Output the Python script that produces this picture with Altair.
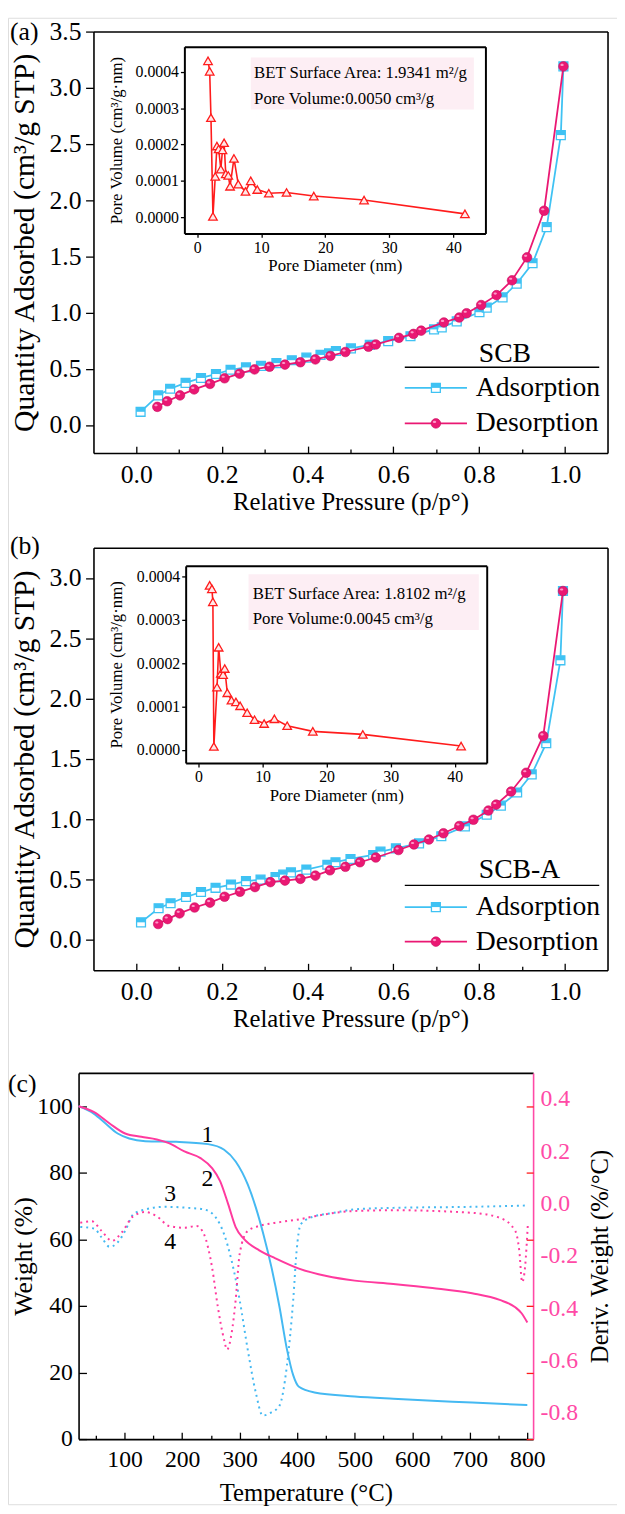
import altair as alt
import pandas as pd

# ---------------- data: panel (a) SCB isotherm ----------------
ads_a_p = [0.010, 0.051, 0.079, 0.115, 0.151, 0.186, 0.220, 0.256, 0.291, 0.327, 0.363, 0.397, 0.430, 0.450, 0.466,
           0.501, 0.545, 0.588, 0.640, 0.695, 0.713, 0.748, 0.801, 0.818, 0.855, 0.888, 0.925, 0.958, 0.991, 0.997]
ads_a_q = [0.117, 0.263, 0.322, 0.374, 0.418, 0.453, 0.491, 0.512, 0.526, 0.550, 0.576, 0.599, 0.623, 0.637, 0.658,
           0.681, 0.712, 0.746, 0.789, 0.850, 0.868, 0.921, 1.003, 1.044, 1.135, 1.257, 1.439, 1.760, 2.579, 3.190]
des_a_p = [0.049, 0.072, 0.102, 0.135, 0.172, 0.206, 0.241, 0.276, 0.311, 0.347, 0.383, 0.418, 0.453, 0.488,
           0.542, 0.559, 0.613, 0.647, 0.665, 0.718, 0.754, 0.771, 0.805, 0.841, 0.877, 0.912, 0.952, 0.997]
des_a_q = [0.161, 0.211, 0.263, 0.316, 0.365, 0.415, 0.456, 0.494, 0.518, 0.537, 0.558, 0.583, 0.614, 0.649,
           0.696, 0.716, 0.775, 0.810, 0.839, 0.912, 0.956, 0.994, 1.067, 1.155, 1.287, 1.491, 1.906, 3.190]

# ---------------- data: panel (b) SCB-A isotherm ----------------
ads_b_p = [0.011, 0.052, 0.080, 0.116, 0.151, 0.185, 0.221, 0.256, 0.290, 0.325, 0.343, 0.361, 0.397, 0.446, 0.465,
           0.500, 0.553, 0.570, 0.606, 0.660, 0.712, 0.767, 0.818, 0.851, 0.889, 0.923, 0.957, 0.990, 0.996]
ads_b_q = [0.147, 0.264, 0.305, 0.357, 0.398, 0.433, 0.460, 0.488, 0.501, 0.522, 0.542, 0.561, 0.583, 0.624, 0.645,
           0.672, 0.705, 0.733, 0.760, 0.801, 0.860, 0.942, 1.038, 1.114, 1.223, 1.373, 1.631, 2.318, 2.892]
des_b_p = [0.051, 0.073, 0.101, 0.136, 0.172, 0.206, 0.242, 0.277, 0.313, 0.347, 0.383, 0.418, 0.452, 0.488,
           0.522, 0.559, 0.612, 0.648, 0.683, 0.717, 0.754, 0.787, 0.822, 0.840, 0.875, 0.910, 0.950, 0.996]
des_b_q = [0.133, 0.174, 0.221, 0.270, 0.310, 0.359, 0.400, 0.439, 0.480, 0.493, 0.507, 0.534, 0.578, 0.607,
           0.645, 0.684, 0.746, 0.792, 0.833, 0.885, 0.945, 0.997, 1.073, 1.122, 1.231, 1.386, 1.691, 2.892]

# ---------------- data: pore size distributions (insets) ----------------
psd_a_d = [1.69, 1.95, 2.15, 2.46, 2.82, 3.08, 3.35, 3.69, 3.95, 4.20, 4.46, 4.85, 5.13, 5.74, 6.41, 7.54, 8.36,
           9.38, 11.18, 13.95, 18.2, 26.05, 41.8]
psd_a_v = [4.31e-4, 4.02e-4, 2.74e-4, 0.02e-4, 1.12e-4, 1.96e-4, 1.88e-4, 1.32e-4, 1.85e-4, 2.05e-4, 1.19e-4,
           1.15e-4, 0.85e-4, 1.62e-4, 0.91e-4, 0.71e-4, 1.00e-4, 0.76e-4, 0.66e-4, 0.68e-4, 0.58e-4, 0.47e-4, 0.09e-4]
psd_b_d = [1.74, 2.10, 2.25, 2.40, 2.90, 3.15, 3.50, 3.84, 4.10, 4.50, 5.15, 5.85, 6.50, 7.60, 8.75, 10.25, 11.85,
           13.85, 17.85, 25.66, 41.0]
psd_b_v = [3.80e-4, 3.72e-4, 3.42e-4, 0.08e-4, 1.45e-4, 2.37e-4, 1.77e-4, 1.74e-4, 1.88e-4, 1.32e-4, 1.15e-4,
           1.11e-4, 1.02e-4, 0.86e-4, 0.70e-4, 0.61e-4, 0.72e-4, 0.56e-4, 0.43e-4, 0.36e-4, 0.09e-4]
bet_a = ["BET Surface Area: 1.9341 m²/g", "Pore Volume:0.0050 cm³/g"]
bet_b = ["BET Surface Area: 1.8102 m²/g", "Pore Volume:0.0045 cm³/g"]

# ---------------- data: panel (c) TGA / DTG ----------------
tga1_T = [20, 47, 67, 88, 108, 136, 190, 245, 273, 293, 314, 328, 341, 355, 369, 382, 393, 403, 430, 500, 567, 635, 704, 800]
tga1_W = [100, 97.7, 94.8, 91.8, 90.3, 89.5, 89.3, 88.6, 86.9, 83.4, 76.5, 69.6, 61.7, 51.8, 39.9, 27.1, 19.2, 15.7,
          14.0, 12.8, 12.1, 11.5, 11.0, 10.2]
tga2_T = [20, 47, 74, 101, 129, 156, 177, 204, 232, 252, 266, 280, 293, 307, 334, 362, 403, 451, 500, 567, 635, 704,
          752, 779, 790, 800]
tga2_W = [100, 98.2, 94.8, 91.8, 90.8, 90.0, 88.9, 86.4, 84.4, 81.4, 77.5, 70.6, 63.7, 60.2, 56.7, 54.3, 51.2, 49.0,
          47.6, 46.6, 45.4, 43.8, 41.8, 39.6, 37.8, 35.0]
dtg3_T = [23, 47, 60, 74, 88, 101, 115, 136, 170, 211, 238, 259, 273, 286, 300, 314, 328, 340, 355, 369, 382, 393,
          399, 406, 430, 464, 499, 567, 704, 800]
dtg3_D = [-0.089, -0.095, -0.129, -0.165, -0.148, -0.104, -0.041, -0.022, -0.012, -0.016, -0.022, -0.054, -0.117,
          -0.218, -0.369, -0.558, -0.722, -0.810, -0.798, -0.773, -0.621, -0.369, -0.180, -0.079, -0.048, -0.035,
          -0.022, -0.016, -0.012, -0.007]
dtg4_T = [23, 43, 60, 78, 95, 115, 136, 156, 177, 204, 225, 238, 252, 262, 273, 278, 286, 293, 300, 314, 334, 362,
          403, 430, 499, 567, 704, 752, 779, 786, 791, 796, 801]
dtg4_D = [-0.073, -0.067, -0.104, -0.142, -0.110, -0.048, -0.032, -0.048, -0.085, -0.092, -0.085, -0.117, -0.243,
          -0.394, -0.521, -0.558, -0.495, -0.369, -0.192, -0.104, -0.085, -0.073, -0.060, -0.048, -0.028, -0.025,
          -0.035, -0.054, -0.104, -0.180, -0.300, -0.243, -0.073]
curve_tags = ["1", "2", "3", "4"]
curve_tag_T = [244, 244, 179, 179]
curve_tag_W = [91.3, 78.0, 73.5, 59.2]

# ---------------- text / tick values ----------------
series_names = ["Adsorption", "Desorption"]
sample_names = ["SCB", "SCB-A"]
panel_tags = ["(a)", "(b)", "(c)"]
iso_x_major = [0.0, 0.2, 0.4, 0.6, 0.8, 1.0]
iso_x_minor = [0.1, 0.3, 0.5, 0.7, 0.9]
iso_y_a = [0.0, 0.5, 1.0, 1.5, 2.0, 2.5, 3.0, 3.5]
iso_y_b = [0.0, 0.5, 1.0, 1.5, 2.0, 2.5, 3.0]
psd_x_ticks = [0, 10, 20, 30, 40]
psd_y_ticks = [0.0, 0.0001, 0.0002, 0.0003, 0.0004]
t_major = [100, 200, 300, 400, 500, 600, 700, 800]
t_minor = [50, 150, 250, 350, 450, 550, 650, 750]
w_ticks = [0, 20, 40, 60, 80, 100]
d_ticks = [-0.8, -0.6, -0.4, -0.2, 0.0, 0.2, 0.4]

# ---------------- styles ----------------
FONT = "Liberation Serif"
CYAN = "#3fc2f3"
PINK = "#ea1873"
RED = "#ff1c1c"
CYAN_C = "#45b9f2"
PINK_C = "#ff3a9e"
PINK_AX = "#ff4aa6"
W_VIEW, H_VIEW = 617, 1506
HALF_SQ = "M-1,-1H1V0H-1Z"
HILITE = "M-0.62,-0.32A0.34,0.22 0 1,1 0.06,-0.32A0.34,0.22 0 1,1 -0.62,-0.32Z"
DUMMY = pd.DataFrame({"k": [0]})


def ax(orient, offset, **kw):
    base = dict(orient=orient, offset=offset, grid=False, labelFont=FONT, titleFont=FONT,
                labelColor="black", titleColor="black", domainColor="black", tickColor="black",
                labelOverlap=False, labelFlush=False, titleFontWeight="normal")
    base.update(kw)
    return alt.Axis(**base)


def frame_axis(orient, offset, width=1.6, color="black"):
    return ax(orient, offset, domain=True, domainWidth=width, domainColor=color, ticks=False, tickSize=0,
              labels=False, title=None)


def tick_axis(orient, offset, values, size, color="black", width=1.3):
    return ax(orient, offset, domain=False, ticks=True, tickSize=size, tickWidth=width, tickColor=color,
              labels=False, values=values, title=None)


def iso_panel(ads_p, ads_q, des_p, des_q, ydom, ytop, ybot, yvals):
    xs = alt.Scale(domain=[-0.1, 1.1], range=[86.6, 607.4], nice=False, zero=False)
    ys = alt.Scale(domain=ydom, range=[ybot, ytop], nice=False, zero=False)
    ads = pd.DataFrame({"p": ads_p, "q": ads_q})
    des = pd.DataFrame({"p": des_p, "q": des_q})
    boff = ybot - H_VIEW
    a_left = ax("left", -86.6, values=yvals, format=".1f", tickSize=8, tickWidth=1.3, labelPadding=4.6,
                labelFontSize=26, domainWidth=1.6, title="Quantity Adsorbed (cm³/g STP)", titleFontSize=30,
                titleX=-70, titleAngle=270, titleBaseline="middle")
    a_bottom = ax("bottom", boff, values=iso_x_major, format=".1f", ticks=False, tickSize=0, labelPadding=9,
                  labelFontSize=26, domainWidth=1.6, title="Relative Pressure (p/p°)", titleFontSize=25,
                  titleY=49, titleBaseline="middle")
    a_major = tick_axis("bottom", boff - 7, iso_x_major, 7)
    a_minor = tick_axis("bottom", boff - 4, iso_x_minor, 4)
    a_top = frame_axis("top", -ytop)
    a_right = frame_axis("right", 607.4 - W_VIEW)

    def X(axis):
        return alt.X("p:Q", scale=xs, axis=axis)

    def Y(axis):
        return alt.Y("q:Q", scale=ys, axis=axis)

    l1 = alt.Chart(ads).mark_line(color=CYAN, strokeWidth=1.8).encode(x=X(a_bottom), y=Y(a_left))
    l2 = alt.Chart(ads).mark_point(shape="square", filled=True, fill="white", stroke=CYAN, strokeWidth=1.3,
                                   size=81, opacity=1).encode(x=X(a_major), y=Y(a_right))
    l3 = alt.Chart(ads).mark_point(shape=HALF_SQ, filled=True, color=CYAN, size=81, opacity=1).encode(
        x=X(a_minor), y=Y(None))
    l4 = alt.Chart(des).mark_line(color=PINK, strokeWidth=1.8).encode(x=X(a_top), y=Y(None))
    l5 = alt.Chart(des).mark_point(shape="circle", filled=True, color=PINK, size=95, opacity=1,
                                   stroke="#c90d5f", strokeWidth=0.6).encode(x=X(None), y=Y(None))
    l6 = alt.Chart(des).mark_point(shape=HILITE, filled=True, color="#ffa6d0", size=95, opacity=0.9).encode(
        x=X(None), y=Y(None))
    return alt.layer(l1, l2, l3, l4, l5, l6).resolve_axis(x="independent", y="independent")


def inset_panel(d, v, left, right, top, bottom, ydom):
    xs = alt.Scale(domain=[-2, 45], range=[left, right], nice=False, zero=False)
    ys = alt.Scale(domain=ydom, range=[bottom, top], nice=False, zero=False)
    df = pd.DataFrame({"d": d, "v": v})
    i_bottom = ax("bottom", bottom - H_VIEW, values=psd_x_ticks, format="d", tickSize=4, tickWidth=1.3,
                  labelPadding=2, labelFontSize=16, domainWidth=2, title="Pore Diameter (nm)", titleFontSize=17,
                  titleY=33, titleBaseline="middle")
    i_left = ax("left", -left, values=psd_y_ticks, format=".4f", tickSize=4, tickWidth=1.3, labelPadding=2,
                labelFontSize=16, domainWidth=2, title="Pore Volume (cm³/g·nm)", titleFontSize=17,
                titleX=110 - left, titleAngle=270, titleBaseline="middle")
    i_top = frame_axis("top", -top, width=2)
    i_right = frame_axis("right", right - W_VIEW, width=2)
    line = alt.Chart(df).mark_line(color=RED, strokeWidth=1.6).encode(
        x=alt.X("d:Q", scale=xs, axis=i_bottom), y=alt.Y("v:Q", scale=ys, axis=i_left))
    pts = alt.Chart(df).mark_point(shape="triangle-up", filled=True, fill="#ffe8e8", stroke=RED, strokeWidth=1.3,
                                   size=75, opacity=1).encode(
        x=alt.X("d:Q", scale=xs, axis=i_top), y=alt.Y("v:Q", scale=ys, axis=i_right))
    return alt.layer(line, pts).resolve_axis(x="independent", y="independent")


def txt(s, x, y, size, align="left", color="black"):
    return alt.Chart(DUMMY).mark_text(text=s, font=FONT, fontSize=size, align=align, baseline="middle",
                                      color=color).encode(x=alt.value(x), y=alt.value(y))


def hrule(x1, x2, y, color, width):
    return alt.Chart(DUMMY).mark_rule(color=color, strokeWidth=width).encode(
        x=alt.value(x1), x2=alt.value(x2), y=alt.value(y))


def legend(sample, y_title, y_line, y_ads, y_des):
    parts = [
        txt(sample, 477, y_title, 28),
        hrule(402, 599, y_line, "black", 1.5),
        hrule(402, 465, y_ads, CYAN, 1.8),
        alt.Chart(DUMMY).mark_point(shape="square", filled=True, fill="white", stroke=CYAN, strokeWidth=1.3,
                                    size=81, opacity=1).encode(x=alt.value(433.5), y=alt.value(y_ads)),
        alt.Chart(DUMMY).mark_point(shape=HALF_SQ, filled=True, color=CYAN, size=81, opacity=1).encode(
            x=alt.value(433.5), y=alt.value(y_ads)),
        txt(series_names[0], 474, y_ads, 28),
        hrule(402, 465, y_des, PINK, 1.8),
        alt.Chart(DUMMY).mark_point(shape="circle", filled=True, color=PINK, size=95, opacity=1,
                                    stroke="#c90d5f", strokeWidth=0.6).encode(x=alt.value(433.5), y=alt.value(y_des)),
        alt.Chart(DUMMY).mark_point(shape=HILITE, filled=True, color="#ffa6d0", size=95, opacity=0.9).encode(
            x=alt.value(433.5), y=alt.value(y_des)),
        txt(series_names[1], 474, y_des, 28),
    ]
    return parts


def bet_box(lines, x1, x2, y1, y2, tx, ty1, ty2):
    box = alt.Chart(DUMMY).mark_rect(color="#fdeef4").encode(
        x=alt.value(x1), x2=alt.value(x2), y=alt.value(y1), y2=alt.value(y2))
    return [box, txt(lines[0], tx, ty1, 17), txt(lines[1], tx, ty2, 17)]


# ---------------- panels (a), (b) ----------------
panel_a = iso_panel(ads_a_p, ads_a_q, des_a_p, des_a_q, [-0.25, 3.5], 14, 441, iso_y_a)
inset_a = inset_panel(psd_a_d, psd_a_v, 178.7, 483.7, 29.3, 218.5, [-0.000045, 0.00047])
panel_b = iso_panel(ads_b_p, ads_b_q, des_b_p, des_b_q, [-0.25, 3.25], 537, 965, iso_y_b)
inset_b = inset_panel(psd_b_d, psd_b_v, 180, 485, 555.3, 755, [-0.00003, 0.000425])

# ---------------- panel (c) ----------------
xs_c = alt.Scale(domain=[20, 810], range=[71.5, 532], nice=False, zero=False)
ys_w = alt.Scale(domain=[0, 110], range=[1440, 1069], nice=False, zero=False)
ys_d = alt.Scale(domain=[-0.9, 0.5], range=[1440, 1069], nice=False, zero=False)
c_bottom = ax("bottom", 1440 - H_VIEW, values=t_major, format="d", ticks=False, tickSize=0, labelPadding=9,
              labelFontSize=24, domainWidth=1.6, title="Temperature (°C)", titleFontSize=25, titleY=54,
              titleBaseline="middle")
c_major = tick_axis("bottom", 1440 - H_VIEW - 7, t_major, 7)
c_minor = tick_axis("bottom", 1440 - H_VIEW - 4, t_minor, 4)
c_top = frame_axis("top", -1069)
w_left = ax("left", -71.5, values=w_ticks, format="d", ticks=False, tickSize=0, labelPadding=6.3,
            labelFontSize=24, domainWidth=1.6, title="Weight (%)", titleFontSize=26, titleX=-55.5,
            titleAngle=270, titleBaseline="middle")
w_in = tick_axis("left", -79.5, w_ticks, 8)
w_right = tick_axis("right", 525 - W_VIEW, w_ticks, 7, color="#ff1a1a")
d_right = ax("right", 532 - W_VIEW, values=d_ticks, ticks=False, tickSize=0, labelPadding=7, labelFontSize=24,
             labelColor=PINK_AX, domainColor=PINK_AX, domainWidth=1.6,
             labelExpr="datum.value < 0 ? '-' + format(-datum.value, '.1f') : format(datum.value, '.1f')",
             title="Deriv. Weight (%/°C)", titleFontSize=25, titleX=67, titleAngle=270,
             titleBaseline="middle")

tga1 = pd.DataFrame({"T": tga1_T, "W": tga1_W})
tga2 = pd.DataFrame({"T": tga2_T, "W": tga2_W})
dtg3 = pd.DataFrame({"T": dtg3_T, "D": dtg3_D})
dtg4 = pd.DataFrame({"T": dtg4_T, "D": dtg4_D})
tags = pd.DataFrame({"T": curve_tag_T, "W": curve_tag_W, "lab": curve_tags})

d3 = alt.Chart(dtg3).mark_line(color=CYAN_C, strokeWidth=2, strokeDash=[2, 4], interpolate="monotone").encode(
    x=alt.X("T:Q", scale=xs_c, axis=c_top), y=alt.Y("D:Q", scale=ys_d, axis=d_right))
d4 = alt.Chart(dtg4).mark_line(color=PINK_C, strokeWidth=2, strokeDash=[2, 4], interpolate="monotone").encode(
    x=alt.X("T:Q", scale=xs_c, axis=None), y=alt.Y("D:Q", scale=ys_d, axis=None))
deriv = alt.layer(d3, d4).resolve_axis(x="independent", y="independent")

w1 = alt.Chart(tga1).mark_line(color=CYAN_C, strokeWidth=2, interpolate="monotone").encode(
    x=alt.X("T:Q", scale=xs_c, axis=c_bottom), y=alt.Y("W:Q", scale=ys_w, axis=w_left))
w2 = alt.Chart(tga2).mark_line(color=PINK_C, strokeWidth=2, interpolate="monotone").encode(
    x=alt.X("T:Q", scale=xs_c, axis=c_major), y=alt.Y("W:Q", scale=ys_w, axis=w_in))
w3 = alt.Chart(tags).mark_text(font=FONT, fontSize=24, color="black").encode(
    x=alt.X("T:Q", scale=xs_c, axis=c_minor), y=alt.Y("W:Q", scale=ys_w, axis=w_right), text="lab:N")
weight = alt.layer(w1, w2, w3).resolve_axis(x="independent", y="independent")

# ---------------- annotations ----------------
notes = [
    txt(panel_tags[0], 2, 15, 26),
    txt(panel_tags[1], 2, 535, 26),
    txt(panel_tags[2], 0, 1080, 26),
]
notes += legend(sample_names[0], 341, 354, 375, 411)
notes += legend(sample_names[1], 864, 879, 901, 936)
notes += bet_box(bet_a, 246, 472, 40.3, 93, 249.3, 56.3, 82)
notes += bet_box(bet_b, 243.7, 477, 563.7, 620.3, 248, 583.7, 608.7)

chart = alt.layer(panel_a, inset_a, panel_b, inset_b, deriv, weight, *notes).resolve_scale(
    x="independent", y="independent").resolve_axis(x="independent", y="independent").properties(
    width=W_VIEW, height=H_VIEW, padding=0, autosize=alt.AutoSizeParams(type="none")
).configure_view(stroke="transparent", strokeWidth=0).configure(font=FONT)

chart.save("out.html", embed_options={"renderer": "svg", "actions": False})
